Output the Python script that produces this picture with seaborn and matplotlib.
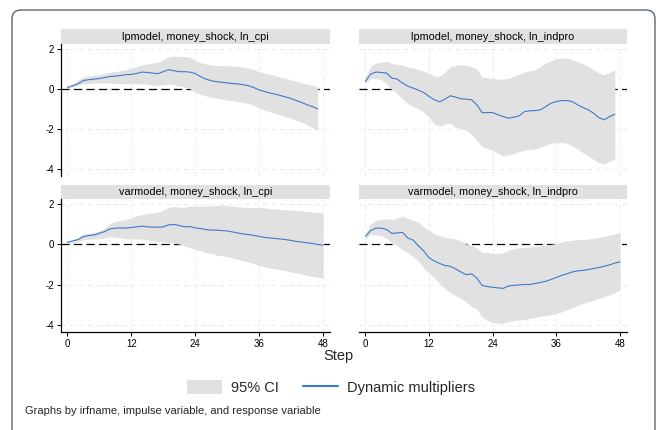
import seaborn as sns
import matplotlib.pyplot as plt
import numpy as np
from matplotlib.patches import Patch, Rectangle, FancyBboxPatch
from matplotlib.lines import Line2D

# impulse responses
lp_steps = list(range(48))
var_steps = list(range(49))

lp_cpi = [0.08, 0.17, 0.27, 0.43, 0.47, 0.50, 0.53, 0.58, 0.63, 0.65, 0.68, 0.72, 0.73, 0.78,
          0.85, 0.83, 0.80, 0.77, 0.87, 0.97, 0.92, 0.87, 0.87, 0.85, 0.78, 0.62, 0.50, 0.42,
          0.37, 0.34, 0.31, 0.28, 0.26, 0.22, 0.17, 0.08, -0.04, -0.12, -0.19, -0.25, -0.32,
          -0.39, -0.47, -0.57, -0.67, -0.78, -0.87, -0.98]
lp_cpi_hi = [0.12, 0.25, 0.45, 0.60, 0.65, 0.68, 0.72, 0.78, 0.85, 0.88, 0.92, 0.98, 1.05, 1.12,
             1.22, 1.25, 1.30, 1.35, 1.45, 1.62, 1.65, 1.62, 1.63, 1.58, 1.42, 1.32, 1.25, 1.20,
             1.18, 1.17, 1.17, 1.15, 1.13, 1.10, 1.05, 0.97, 0.88, 0.80, 0.74, 0.67, 0.60, 0.53,
             0.46, 0.39, 0.32, 0.25, 0.18, 0.12]
lp_cpi_lo = [0.04, 0.10, 0.20, 0.27, 0.29, 0.30, 0.31, 0.31, 0.30, 0.28, 0.27, 0.27, 0.27, 0.27,
             0.26, 0.24, 0.20, 0.18, 0.22, 0.25, 0.22, 0.16, 0.11, 0.02, -0.15, -0.26, -0.34,
             -0.40, -0.45, -0.50, -0.54, -0.58, -0.62, -0.67, -0.72, -0.80, -0.95, -1.05, -1.13,
             -1.21, -1.30, -1.38, -1.46, -1.55, -1.65, -1.78, -1.92, -2.05]

lp_indpro = [0.38, 0.75, 0.85, 0.83, 0.80, 0.55, 0.50, 0.30, 0.15, 0.05, -0.05, -0.17, -0.36,
             -0.53, -0.63, -0.50, -0.33, -0.40, -0.48, -0.50, -0.53, -0.78, -1.17, -1.17, -1.17,
             -1.28, -1.37, -1.45, -1.40, -1.33, -1.12, -1.08, -1.07, -1.03, -0.87, -0.70, -0.62,
             -0.57, -0.57, -0.62, -0.78, -0.92, -1.03, -1.20, -1.42, -1.53, -1.37, -1.25]
lp_indpro_hi = [0.60, 1.13, 1.30, 1.35, 1.40, 1.28, 1.22, 1.20, 1.08, 1.06, 0.97, 0.90, 0.80,
                0.65, 0.65, 0.85, 1.10, 1.18, 1.22, 1.18, 1.13, 1.00, 0.60, 0.57, 0.55, 0.50,
                0.50, 0.55, 0.63, 0.75, 0.85, 0.92, 0.97, 1.13, 1.30, 1.43, 1.52, 1.55, 1.55,
                1.47, 1.35, 1.25, 1.13, 0.97, 0.80, 0.72, 0.83, 0.95]
lp_indpro_lo = [0.30, 0.52, 0.52, 0.47, 0.25, -0.03, -0.22, -0.50, -0.72, -0.85, -0.98, -1.15,
                -1.40, -1.75, -1.85, -1.75, -1.70, -1.90, -1.98, -2.03, -2.25, -2.55, -2.87,
                -2.95, -3.05, -3.20, -3.33, -3.28, -3.20, -3.12, -3.05, -3.00, -2.98, -2.90,
                -2.78, -2.70, -2.67, -2.67, -2.70, -2.83, -3.00, -3.17, -3.33, -3.50, -3.67,
                -3.72, -3.60, -3.48]

var_cpi = [0.10, 0.18, 0.24, 0.39, 0.44, 0.47, 0.55, 0.64, 0.77, 0.81, 0.82, 0.81, 0.84, 0.87,
           0.91, 0.87, 0.86, 0.86, 0.87, 0.97, 0.99, 0.94, 0.87, 0.89, 0.82, 0.79, 0.74, 0.71,
           0.71, 0.69, 0.67, 0.62, 0.57, 0.52, 0.49, 0.45, 0.40, 0.35, 0.32, 0.30, 0.27, 0.24,
           0.20, 0.15, 0.12, 0.08, 0.05, 0.00, -0.03]
var_cpi_hi = [0.13, 0.22, 0.35, 0.52, 0.56, 0.60, 0.68, 0.80, 1.05, 1.13, 1.19, 1.24, 1.31, 1.42,
              1.48, 1.53, 1.56, 1.60, 1.70, 1.83, 1.87, 1.85, 1.83, 1.90, 1.90, 1.90, 1.90, 1.91,
              1.92, 1.95, 1.93, 1.90, 1.87, 1.83, 1.83, 1.83, 1.82, 1.82, 1.78, 1.76, 1.73, 1.72,
              1.70, 1.68, 1.66, 1.63, 1.61, 1.58, 1.56]
var_cpi_lo = [0.07, 0.10, 0.13, 0.24, 0.26, 0.27, 0.29, 0.32, 0.39, 0.36, 0.32, 0.29, 0.27, 0.27,
              0.27, 0.23, 0.18, 0.15, 0.13, 0.10, 0.07, 0.02, -0.07, -0.15, -0.24, -0.32, -0.40,
              -0.46, -0.52, -0.56, -0.60, -0.67, -0.74, -0.80, -0.87, -0.95, -1.04, -1.10, -1.16,
              -1.20, -1.24, -1.30, -1.36, -1.41, -1.46, -1.52, -1.58, -1.62, -1.66]

var_indpro = [0.40, 0.69, 0.81, 0.81, 0.74, 0.55, 0.57, 0.60, 0.32, 0.22, -0.07, -0.32, -0.66,
              -0.82, -0.94, -1.04, -1.08, -1.21, -1.36, -1.50, -1.45, -1.66, -2.03, -2.08, -2.12,
              -2.15, -2.17, -2.05, -2.02, -2.00, -1.98, -1.98, -1.93, -1.88, -1.82, -1.73, -1.63,
              -1.53, -1.45, -1.36, -1.31, -1.28, -1.24, -1.19, -1.14, -1.08, -1.01, -0.92, -0.86]
var_indpro_hi = [0.52, 1.03, 1.19, 1.24, 1.28, 1.23, 1.31, 1.41, 1.28, 1.19, 1.11, 0.86, 0.72,
                 0.52, 0.44, 0.35, 0.32, 0.27, 0.18, 0.02, -0.03, -0.18, -0.40, -0.40, -0.44,
                 -0.44, -0.40, -0.27, -0.20, -0.17, -0.15, -0.12, -0.10, -0.07, -0.03, 0.01,
                 0.05, 0.12, 0.18, 0.21, 0.24, 0.25, 0.27, 0.31, 0.35, 0.41, 0.47, 0.52, 0.57]
var_indpro_lo = [0.27, 0.52, 0.47, 0.44, 0.30, 0.10, -0.07, -0.27, -0.40, -0.60, -0.82, -1.16,
                 -1.41, -1.66, -1.92, -2.17, -2.39, -2.55, -2.67, -2.84, -3.06, -3.18, -3.60,
                 -3.76, -3.85, -3.90, -3.89, -3.82, -3.76, -3.73, -3.71, -3.66, -3.60, -3.56,
                 -3.51, -3.47, -3.43, -3.33, -3.23, -3.12, -3.01, -2.92, -2.84, -2.75, -2.67,
                 -2.58, -2.50, -2.38, -2.25]

panel_titles = ['lpmodel, money_shock, ln_cpi', 'lpmodel, money_shock, ln_indpro',
                'varmodel, money_shock, ln_cpi', 'varmodel, money_shock, ln_indpro']
x_ticks = [0, 12, 24, 36, 48]
y_ticks = [-4, -2, 0, 2]

band_col = '#e1e1e1'
line_col = '#3f79c9'

sns.set_style('white')
plt.rcParams['font.family'] = ['Liberation Sans', 'DejaVu Sans']
plt.rcParams['axes.unicode_minus'] = False

fig, axes = plt.subplots(2, 2, figsize=(6.6, 4.3), dpi=100)

# background axes in pixel units, for the rounded outer frame
bg = fig.add_axes([0, 0, 1, 1], zorder=-5)
bg.set_xlim(0, 660)
bg.set_ylim(430, 0)
bg.axis('off')
bg.add_patch(FancyBboxPatch((12, 10), 643, 460, boxstyle='round,pad=0,rounding_size=9',
                            facecolor='none', edgecolor='#5a6776', lw=1.0))

panels = [
    (lp_steps, lp_cpi, lp_cpi_lo, lp_cpi_hi),
    (lp_steps, lp_indpro, lp_indpro_lo, lp_indpro_hi),
    (var_steps, var_cpi, var_cpi_lo, var_cpi_hi),
    (var_steps, var_indpro, var_indpro_lo, var_indpro_hi),
]

# pixel boxes (left, top, right, bottom) of each plot region
boxes = [(61, 44, 330, 176), (359, 44, 627, 176), (61, 199, 330, 332), (359, 199, 627, 332)]

for i, ax in enumerate(axes.flat):
    steps, irf, lo, hi = panels[i]
    l, t, r, b = boxes[i]
    ax.set_position([l / 660, 1 - b / 430, (r - l) / 660, (b - t) / 430])
    ax.patch.set_alpha(0)
    for xv in x_ticks:
        ax.axvline(xv, color='#ebebeb', lw=0.7, ls=(0, (5, 4)), zorder=0)
    for yv in y_ticks:
        ax.axhline(yv, color='#ebebeb', lw=0.7, ls=(0, (5, 4)), zorder=0)
    ax.axhline(0, color='black', lw=0.9, ls=(0, (6.5, 3.5)), zorder=1)
    ax.fill_between(steps, lo, hi, color=band_col, lw=0, zorder=2)
    sns.lineplot(x=steps, y=irf, ax=ax, color=line_col, lw=0.8, zorder=3)
    ax.set_xlim(-1.2, 49.3)
    ax.set_ylim(-4.33, 2.25)
    ax.set_xticks(x_ticks)
    ax.set_yticks(y_ticks)
    ax.set_xlabel('')
    ax.set_ylabel('')
    for s in ['top', 'right', 'left', 'bottom']:
        ax.spines[s].set_visible(False)
    left_col = i % 2 == 0
    bottom_row = i >= 2
    if left_col:
        ax.spines['left'].set_visible(True)
        ax.spines['left'].set_color('black')
        ax.spines['left'].set_linewidth(0.9)
    if bottom_row:
        ax.spines['bottom'].set_visible(True)
        ax.spines['bottom'].set_color('black')
        ax.spines['bottom'].set_linewidth(0.9)
    ax.tick_params(axis='y', left=left_col, labelleft=left_col, length=3, width=0.7,
                   pad=2, labelsize=7, colors='black')
    ax.tick_params(axis='x', bottom=bottom_row, labelbottom=bottom_row, length=3, width=0.7,
                   pad=2, labelsize=7, colors='black')
    # strip title above the panel
    sh = 14.5 / (b - t)
    ax.add_patch(Rectangle((0, 1), 1, sh, transform=ax.transAxes, facecolor=band_col,
                           edgecolor='none', clip_on=False))
    ax.text(0.5, 1 + sh / 2, panel_titles[i], transform=ax.transAxes, ha='center',
            va='center', fontsize=7.8, color='black')

fig.text(338 / 660, 1 - 356 / 430, 'Step', ha='center', va='center', fontsize=10.5)

handles = [Patch(facecolor=band_col, edgecolor='none'), Line2D([], [], color=line_col, lw=1.5)]
fig.legend(handles, ['95% CI', 'Dynamic multipliers'], loc='center',
           bbox_to_anchor=(331 / 660, 1 - 387.5 / 430), ncol=2, frameon=False, fontsize=10.5,
           handlelength=2.4, handleheight=1.05, handletextpad=0.6, columnspacing=1.65)

fig.text(25 / 660, 1 - 411 / 430, 'Graphs by irfname, impulse variable, and response variable',
         ha='left', va='center', fontsize=8)

plt.savefig('out.png', dpi=100)
